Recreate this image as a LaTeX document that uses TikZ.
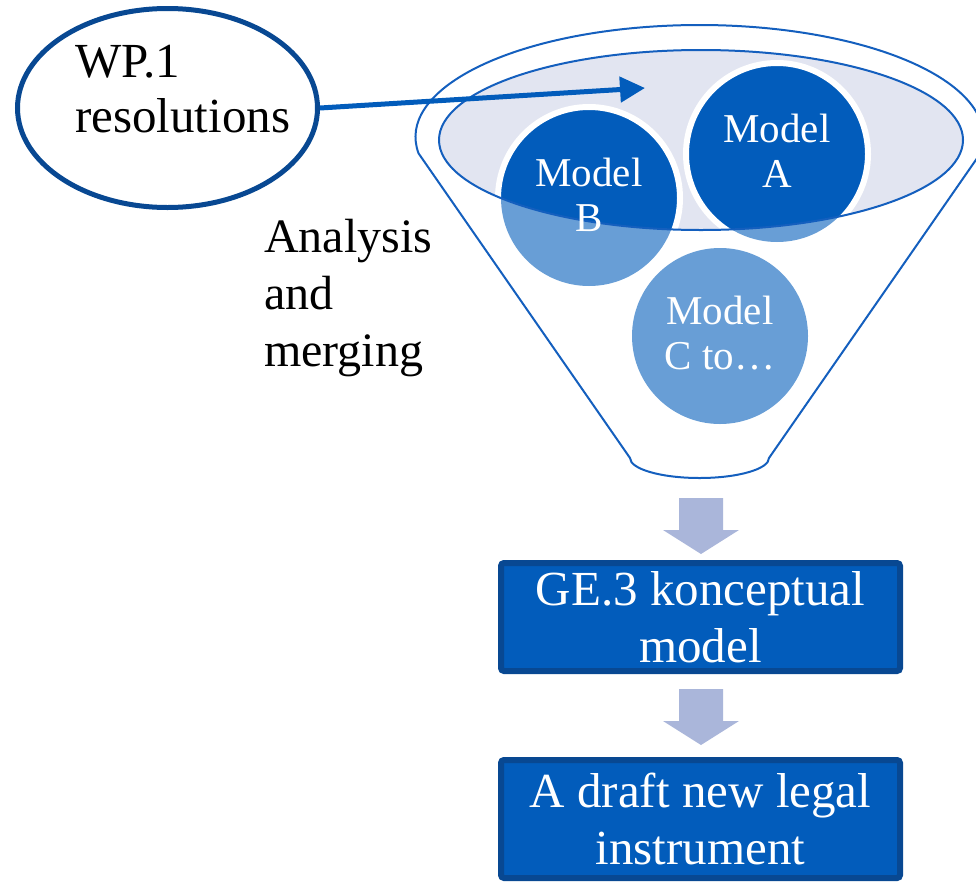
\documentclass[tikz,border=0pt]{standalone}
\usepackage{fontspec}
\setmainfont{Liberation Serif}
\usetikzlibrary{shapes.geometric,arrows.meta}

\definecolor{dkblue}{RGB}{2,92,187}
\definecolor{ltblue}{RGB}{104,158,214}
\definecolor{rimfill}{RGB}{226,229,241}
\definecolor{arrowgray}{RGB}{170,182,218}
\definecolor{boxline}{RGB}{8,72,146}
\definecolor{funnelline}{RGB}{20,95,190}

\tikzset{
  wpell/.style={ellipse, draw=boxline, line width=5pt, minimum width=300pt, minimum height=199pt, inner sep=0},
  modeltext/.style={text=white, align=center, font=\fontsize{41}{45}\selectfont, inner sep=0},
  stagebox/.style={rectangle, rounded corners=3pt, draw=boxline, fill=dkblue, line width=6pt, text=white, align=center, font=\fontsize{49}{57}\selectfont, minimum width=399pt, inner sep=0},
  blockarrow/.pic={\fill[arrowgray] (-22,0) -- (22,0) -- (22,-32) -- (38,-32) -- (0,-56) -- (-38,-32) -- (-22,-32) -- cycle;}
}

\begin{document}
\begin{tikzpicture}[x=1pt,y=1pt]
			\clip (0,0) rectangle (976,-881);
			% funnel
			\draw[funnelline, line width=2pt] (699.5,-137) ++(188.4:284pt and 112pt)
				arc[start angle=188.4, end angle=-8.4, x radius=284pt, y radius=112pt]
				-- (769,-458) arc[start angle=0, end angle=-180, x radius=69.5pt, y radius=20pt] -- cycle;
			\coordinate (rim) at (701,-140);
			\fill[rimfill] (rim) ellipse[x radius=262pt, y radius=90pt];
			% models
			\coordinate (ca) at (777,-154);
			\coordinate (cb) at (589,-198);
			\coordinate (cc) at (720,-336);
			\foreach \c in {ca,cb,cc}
				\fill[ltblue] (\c) circle[radius=88pt];
			\begin{scope}
				\clip (rim) ellipse[x radius=262pt, y radius=90pt];
				\foreach \c in {ca,cb}
					\filldraw[fill=dkblue, draw=white, line width=6pt] (\c) circle[radius=91pt];
			\end{scope}
			\draw[funnelline, line width=2pt] (rim) ellipse[x radius=262pt, y radius=90pt];
			\node[modeltext] (ma) at (777,-151) {Model\\A};
			\node[modeltext] (mb) at (589,-195) {Model\\B};
			\node[modeltext] (mc) at (720,-333) {Model\\C to…};
			% input
			\node[wpell] (wp) at (167.5,-108) {};
			\node[anchor=north west, align=left, inner sep=0, font=\fontsize{49}{55}\selectfont] (wptext) at (75,-45) {WP.1\\resolutions};
			\coordinate (wptip) at (645,-88);
			\draw[dkblue, line width=5pt, -{Triangle[length=25pt,width=25pt]}] (wp.east) -- (wptip);
			\node[anchor=north west, align=left, inner sep=0, font=\fontsize{48}{57}\selectfont] (analysis) at (264,-219) {Analysis\\and\\merging};
			% output
			\pic at (701,-498) {blockarrow};
			\node[stagebox, minimum height=108pt] (ge) at (700.5,-617) {GE.3 konceptual\\model};
			\pic at (701,-689) {blockarrow};
			\node[stagebox, minimum height=118pt] (draft) at (700.5,-819) {A draft new legal\\instrument};
		\end{tikzpicture}
\end{document}
